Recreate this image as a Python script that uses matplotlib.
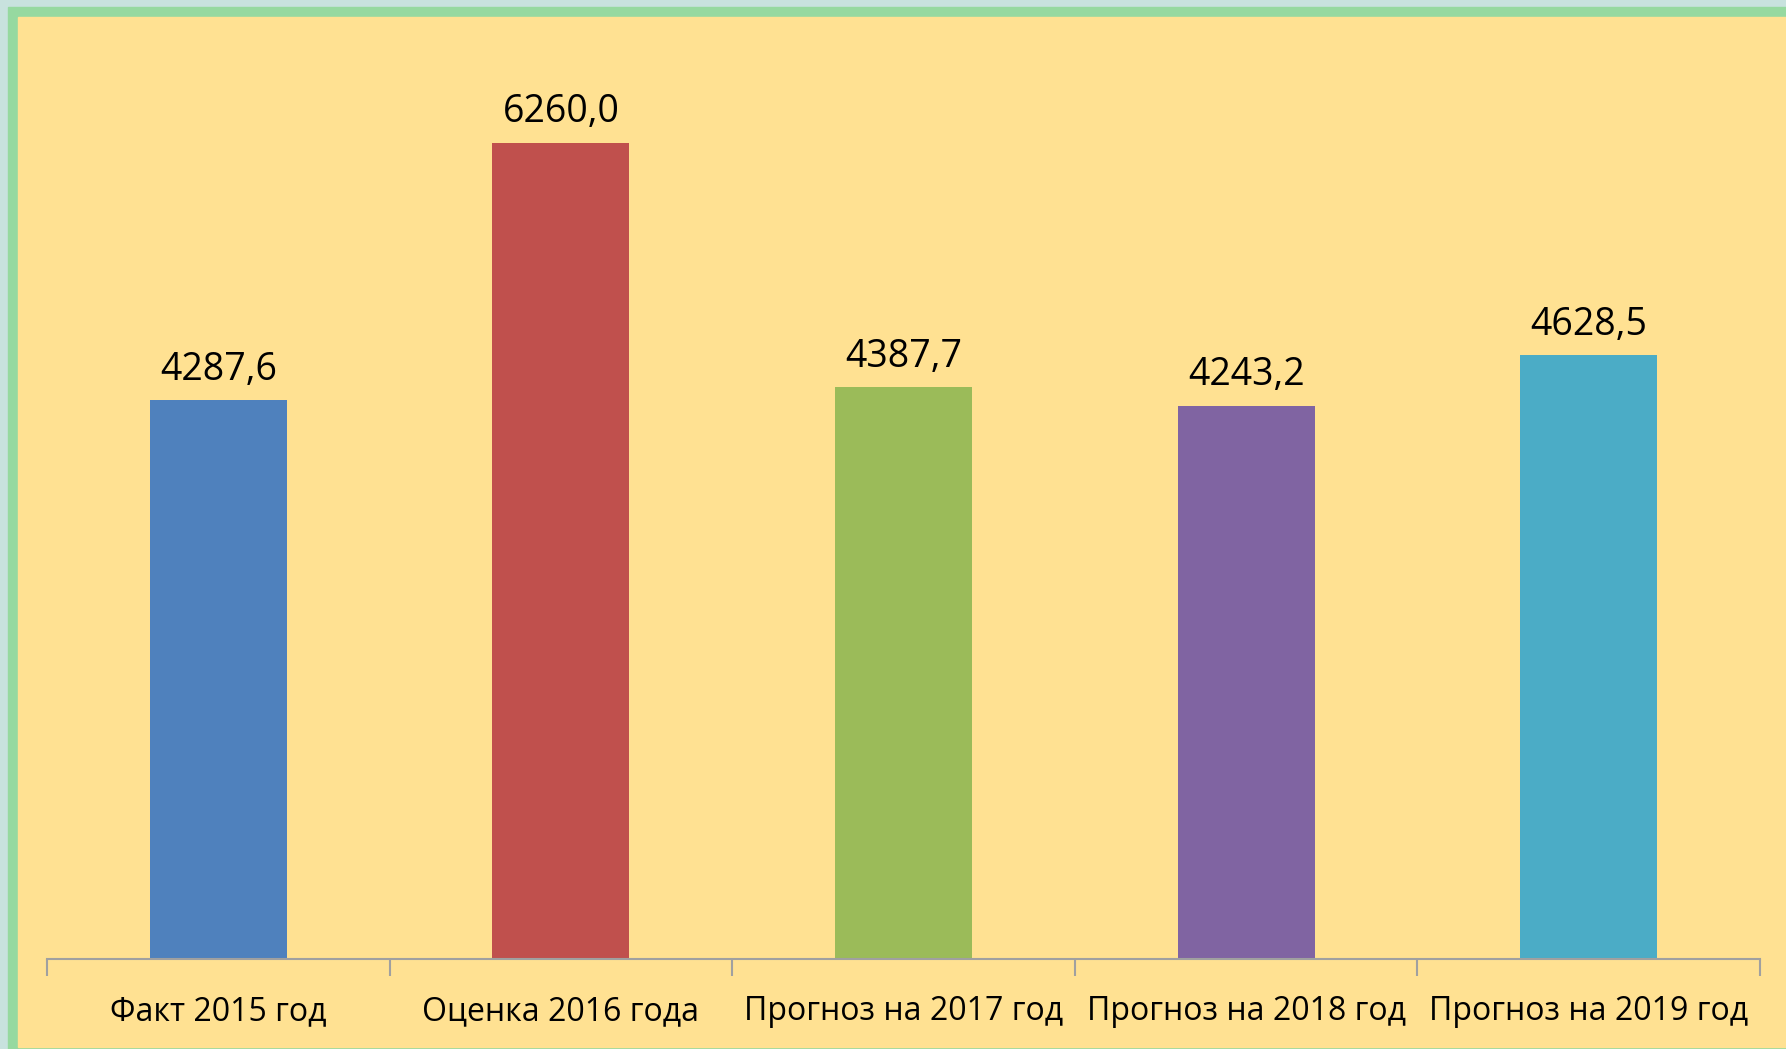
#bar chart: fact / estimate / forecast by year
import matplotlib.pyplot as plt
from matplotlib.patches import Rectangle
from matplotlib.ticker import FixedLocator

#data
categories = ["Факт 2015 год", "Оценка 2016 года", "Прогноз на 2017 год",
              "Прогноз на 2018 год", "Прогноз на 2019 год"]
values = [4287.6, 6260.0, 4387.7, 4243.2, 4628.5]
value_labels = ["4287,6", "6260,0", "4387,7", "4243,2", "4628,5"]
colors = ["#4F81BD", "#C0504D", "#9BBB59", "#8064A2", "#4BACC6"]

W, H = 1786, 1049
bg = "#FFE192"

fig = plt.figure(figsize=(W / 100, H / 100), dpi=100)
fig.patch.set_facecolor("#C8E2DE")

#frame bands (outer blue, green, inner yellow)
fig.patches.append(Rectangle((8 / W, 0), 1, 1 - 7 / H, transform=fig.transFigure,
                             color="#96D9A0", zorder=-3))
fig.patches.append(Rectangle((18 / W, 2 / H), 1, 1 - 19 / H, transform=fig.transFigure,
                             color=bg, zorder=-2))

ax = fig.add_axes([47 / W, 1 - 959 / H, (1760 - 47) / W, (959 - 46) / H])
ax.set_facecolor("none")

x = list(range(len(categories)))
ax.bar(x, values, width=0.4, color=colors, zorder=2)

for xi, v, lab in zip(x, values, value_labels):
    ax.annotate(lab, (xi, v), xytext=(0, 8), textcoords="offset points",
                ha="center", va="bottom", fontsize=27, family="Open Sans")

ax.set_xlim(-0.5, len(categories) - 0.5)
ax.set_ylim(0, 7000)
ax.set_yticks([])
ax.set_xticks(x)
ax.set_xticklabels(categories, fontsize=23, family="Open Sans")
ax.tick_params(axis="x", length=0, pad=26)
ax.xaxis.set_minor_locator(FixedLocator([i - 0.5 for i in range(len(categories) + 1)]))
ax.tick_params(axis="x", which="minor", length=12, color="#A0A0A0", width=1.5)

for s in ["top", "right", "left"]:
    ax.spines[s].set_visible(False)
ax.spines["bottom"].set_color("#A0A0A0")
ax.spines["bottom"].set_linewidth(1.5)

plt.savefig("out.png", dpi=100, facecolor=fig.get_facecolor())
